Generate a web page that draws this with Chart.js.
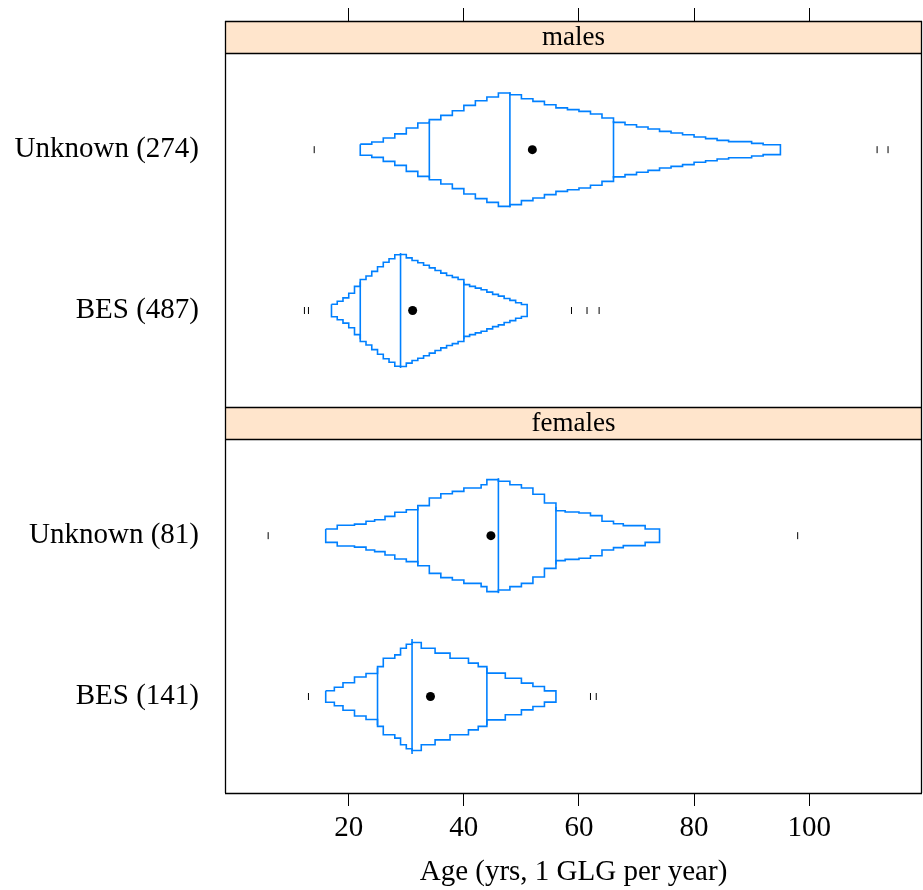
<!DOCTYPE html>
<html>
<head>
<meta charset="utf-8">
<script src="https://cdn.jsdelivr.net/npm/chart.js@4.4.1/dist/chart.umd.min.js"></script>
<style>
  html, body { margin: 0; padding: 0; background: #fff; }
  #grafica { display: block; }
</style>
</head>
<body>
<canvas id="grafica" width="923" height="890"></canvas>
<script>
// Etiquetas de las filas (de abajo arriba) y su posición en el eje y
const rowLabels = ['BES (141)', 'Unknown (81)', 'BES (487)', 'Unknown (274)'];
const rowY = [1, 2, 3.4, 4.4];
const panelNames = ['females', 'males'];
const xTicks = [20, 40, 60, 80, 100];

// Hembras, BES: bordes de los escalones (edad) y anchura (proporción acumulada)
const femBesEdges = [16, 17.5, 19, 21, 23, 25, 26, 28, 29, 30, 31, 32.6, 35, 37.6, 40.8, 42.5, 44, 47.2, 50, 52, 54, 56];
const femBesWidths = [0.05, 0.08, 0.12, 0.17, 0.20, 0.26, 0.333, 0.362, 0.42, 0.455,
  0.47, 0.42, 0.377, 0.333, 0.29, 0.26, 0.203, 0.159, 0.116, 0.087, 0.049];
const femBesQuart = [25, 31, 44];
const femBesMean = 34.2;
const femBesOut = [13, 62, 63];

// Hembras, Unknown
const femUnkEdges = [16, 18, 21, 23, 24.5, 26.3, 28, 30, 32, 34, 36, 38, 40, 43, 44, 46,
  48, 50, 52, 54, 56, 57.6, 60, 62, 64, 66, 67.7, 71.5, 74];
const femUnkWidths = [0.058, 0.09, 0.10, 0.125, 0.139, 0.168, 0.203, 0.226, 0.261, 0.328, 0.365, 0.385, 0.415, 0.443, 0.487,
  0.473, 0.443, 0.415, 0.36, 0.284, 0.217, 0.206, 0.197, 0.174, 0.125, 0.104, 0.087, 0.058];
const femUnkQuart = [32, 46, 56];
const femUnkMean = 44.7;
const femUnkOut = [6, 98];

// Machos, BES
const maleBesEdges = [17, 18, 19, 20, 21, 22, 23, 24, 25, 26, 27, 28, 29, 30, 31, 32, 33, 34,
  35, 36, 37, 38, 39, 40, 41, 42, 43, 44, 45, 46, 47, 48, 49, 50, 51];
const maleBesWidths = [0.054, 0.08, 0.11, 0.15, 0.21, 0.27, 0.30, 0.34, 0.38, 0.42, 0.45, 0.485,
  0.487, 0.458, 0.435, 0.415, 0.394, 0.371, 0.348, 0.325, 0.305, 0.288, 0.27,
  0.225, 0.21, 0.195, 0.18, 0.16, 0.14, 0.125, 0.105, 0.088, 0.068, 0.052];
const maleBesQuart = [22, 29, 40];
const maleBesMean = 31.1;
const maleBesOut = [12.3, 13, 58.7, 61.4, 63.5];

// Machos, Unknown
const maleUnkEdges = [22, 24, 26, 28, 30, 32, 34, 36, 38, 40, 42, 44, 46, 48, 50, 52, 54, 56, 58,
  60, 62, 64, 66, 68, 70, 72, 74, 76, 78, 80, 82, 84, 86, 90, 92, 95];
const maleUnkWidths = [0.048, 0.067, 0.102, 0.137, 0.189, 0.232, 0.261, 0.298, 0.339, 0.385, 0.426, 0.458, 0.493,
  0.478, 0.443, 0.420, 0.391, 0.363, 0.348, 0.333, 0.310, 0.276, 0.237, 0.217, 0.197, 0.180,
  0.159, 0.145, 0.130, 0.110, 0.096, 0.081, 0.070, 0.055, 0.043];
const maleUnkQuart = [34, 48, 66];
const maleUnkMean = 51.9;
const maleUnkOut = [14, 111.8, 113.7];

const grupos = [
  { edges: femBesEdges, widths: femBesWidths, quart: femBesQuart, mean: femBesMean, out: femBesOut },
  { edges: femUnkEdges, widths: femUnkWidths, quart: femUnkQuart, mean: femUnkMean, out: femUnkOut },
  { edges: maleBesEdges, widths: maleBesWidths, quart: maleBesQuart, mean: maleBesMean, out: maleBesOut },
  { edges: maleUnkEdges, widths: maleUnkWidths, quart: maleUnkQuart, mean: maleUnkMean, out: maleUnkOut }
];

// Rango de los ejes; cada panel ocupa 2.2 unidades y cada tira 0.2
const X_MIN = -1.5, X_MAX = 119.6;
const Y_MIN = 0.4, Y_MAX = 5.2;
const stripRanges = [[2.6, 2.8], [5.0, 5.2]];
const ESCALA = 0.715;   // media altura en unidades de y por unidad de proporción

const AZUL = '#0080ff';
const FUENTE = 'Liberation Serif';

// Contorno escalonado de un gráfico de percentiles
function contorno(edges, widths, yc) {
  let arriba = [], abajo = [];
  for (let i = 0; i < widths.length; i++) {
    let h = widths[i] * ESCALA;
    arriba.push({ x: edges[i], y: yc + h }, { x: edges[i + 1], y: yc + h });
    abajo.push({ x: edges[i], y: yc - h }, { x: edges[i + 1], y: yc - h });
  }
  let pts = arriba.concat(abajo.reverse());
  pts.push(pts[0]);
  return pts;
}

let datasets = [];
grupos.forEach(function (g, i) {
  let yc = rowY[i];
  datasets.push({
    data: contorno(g.edges, g.widths, yc),
    showLine: true, borderColor: AZUL, borderWidth: 1.6, pointRadius: 0, fill: false
  });
  // Líneas del primer cuartil, la mediana y el tercer cuartil
  g.quart.forEach(function (q, j) {
    let h = (j === 1 ? 0.5 : 0.25) * ESCALA;
    datasets.push({
      data: [{ x: q, y: yc - h }, { x: q, y: yc + h }],
      showLine: true, borderColor: AZUL, borderWidth: 1.6, pointRadius: 0
    });
  });
  // Valores extremos como pequeñas marcas verticales
  datasets.push({
    data: g.out.map(v => ({ x: v, y: yc })),
    showLine: false, pointStyle: 'line', rotation: 90, pointRadius: 3.5,
    borderColor: '#000', borderWidth: 1
  });
  // Media
  datasets.push({
    data: [{ x: g.mean, y: yc }],
    showLine: false, pointRadius: 4.5, backgroundColor: '#000', borderColor: '#000', borderWidth: 0
  });
});

// Tiras con el nombre del panel y marcos
const paneles = {
  id: 'paneles',
  beforeDatasetsDraw(chart) {
    const ctx = chart.ctx, a = chart.chartArea, y = chart.scales.y;
    ctx.save();
    stripRanges.forEach(function (r, i) {
      let top = y.getPixelForValue(r[1]), bot = y.getPixelForValue(r[0]);
      ctx.fillStyle = '#ffe5cc';
      ctx.fillRect(a.left, top, a.right - a.left, bot - top);
      ctx.fillStyle = '#000';
      ctx.font = '27px "' + FUENTE + '"';
      ctx.textAlign = 'center';
      ctx.textBaseline = 'middle';
      ctx.fillText(panelNames[i], (a.left + a.right) / 2, (top + bot) / 2 + 1);
    });
    ctx.restore();
  },
  afterDatasetsDraw(chart) {
    const ctx = chart.ctx, a = chart.chartArea, y = chart.scales.y;
    ctx.save();
    ctx.strokeStyle = '#000';
    ctx.lineWidth = 1.3;
    let lineas = [Y_MAX, 5.0, 2.8, 2.6, Y_MIN];
    lineas.forEach(function (v) {
      let py = Math.round(y.getPixelForValue(v)) + 0.5;
      ctx.beginPath();
      ctx.moveTo(a.left, py);
      ctx.lineTo(a.right, py);
      ctx.stroke();
    });
    let top = y.getPixelForValue(Y_MAX), bot = y.getPixelForValue(Y_MIN);
    [Math.round(a.left) + 0.5, Math.round(a.right) - 0.5].forEach(function (px) {
      ctx.beginPath();
      ctx.moveTo(px, top);
      ctx.lineTo(px, bot);
      ctx.stroke();
    });
    ctx.restore();
  }
};

const ticksX = s => { s.ticks = xTicks.map(v => ({ value: v })); };
const gridX = { drawOnChartArea: false, drawTicks: true, tickLength: 13, color: '#000', lineWidth: 1 };

new Chart(document.getElementById('grafica'), {
  type: 'scatter',
  data: { datasets: datasets },
  options: {
    responsive: false,
    animation: false,
    layout: { autoPadding: false, padding: { left: 0, right: 1, top: 0, bottom: 0 } },
    plugins: { legend: { display: false }, tooltip: { enabled: false } },
    scales: {
      x: {
        type: 'linear', position: 'bottom', min: X_MIN, max: X_MAX,
        afterBuildTicks: ticksX,
        afterFit: s => { s.height = 97; },
        grid: gridX,
        border: { display: false },
        ticks: { color: '#000', font: { family: FUENTE, size: 29 }, padding: 5, maxRotation: 0, autoSkip: false },
        title: {
          display: true, text: 'Age (yrs, 1 GLG per year)', color: '#000',
          font: { family: FUENTE, size: 29 }, padding: { top: 2, bottom: 0 }
        }
      },
      xTop: {
        type: 'linear', position: 'top', min: X_MIN, max: X_MAX,
        afterBuildTicks: ticksX,
        afterFit: s => { s.height = 21; },
        grid: gridX,
        border: { display: false },
        ticks: { display: false }
      },
      y: {
        type: 'linear', min: Y_MIN, max: Y_MAX,
        afterBuildTicks: s => { s.ticks = rowY.map(v => ({ value: v })); },
        // ancho fijo del eje y sin reservar margen arriba ni abajo
        afterFit: s => { s.width = 225; s.paddingTop = 0; s.paddingBottom = 0; },
        grid: { display: false, drawTicks: false },
        border: { display: false },
        ticks: {
          color: '#000', font: { family: FUENTE, size: 29 }, padding: 26,
          callback: (v, i) => rowLabels[i]
        }
      }
    }
  },
  plugins: [paneles]
});
</script>
</body>
</html>
